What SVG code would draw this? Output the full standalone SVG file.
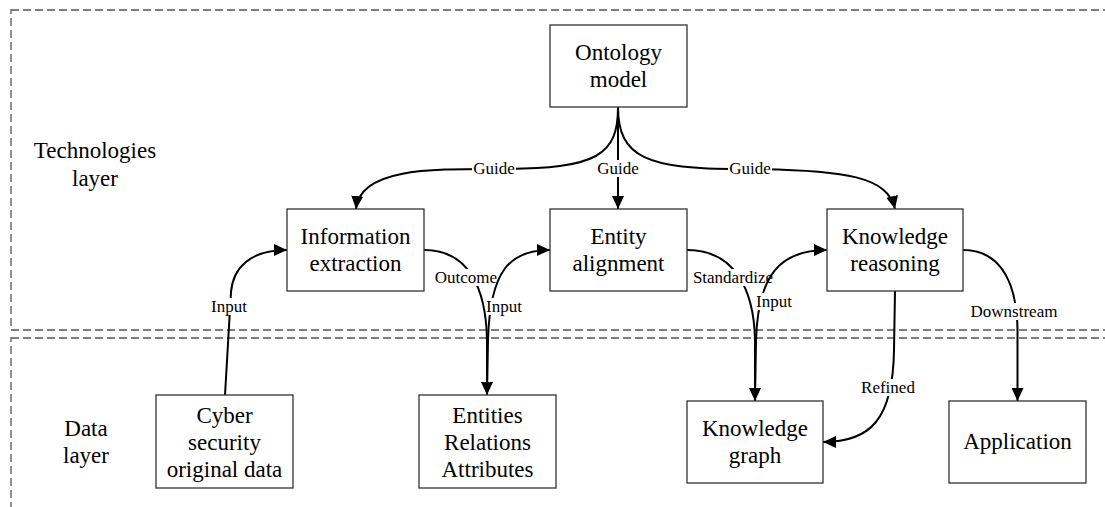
<svg xmlns="http://www.w3.org/2000/svg" width="1105" height="507" viewBox="0 0 1105 507">
<style>
  .layer { fill: none; stroke: #555; stroke-width: 1.3; stroke-dasharray: 8 4; }
  .box { fill: #fff; stroke: #333; stroke-width: 1.3; }
  .t { font-family: "Liberation Serif", "Times New Roman", serif; font-size: 23px; fill: #000; text-anchor: middle; }
  .lbl { font-family: "Liberation Serif", "Times New Roman", serif; font-size: 17px; fill: #000; text-anchor: middle; }
  .edge { fill: none; stroke: #000; stroke-width: 2; }
  .bg { fill: #fff; stroke: none; }
</style>
<defs>
  <marker id="arr" markerUnits="userSpaceOnUse" markerWidth="14" markerHeight="12" refX="13" refY="6" orient="auto">
    <path d="M0,0 L13,6 L0,12 Z" fill="#000"/>
  </marker>
</defs>
<rect width="1105" height="507" fill="#fff"/>

<g id="layers">
  <rect class="layer" x="11" y="10" width="1110" height="320"/>
  <rect class="layer" x="11" y="338" width="1110" height="200"/>
  <text class="t" x="95" y="158">Technologies</text>
  <text class="t" x="95" y="186">layer</text>
  <text class="t" x="86" y="436">Data</text>
  <text class="t" x="86" y="463">layer</text>
</g>

<g id="connectors">
  <!-- Guide left -->
  <path class="edge" d="M618,107 C618,155 598,169 500,169 C430,169 360,168 356,209" marker-end="url(#arr)"/>
  <rect class="bg" x="472" y="160" width="44" height="17"/>
  <text class="lbl" x="494" y="174">Guide</text>
  <!-- Guide middle -->
  <path class="edge" d="M618,107 L618,209" marker-end="url(#arr)"/>
  <rect class="bg" x="596" y="160" width="44" height="17"/>
  <text class="lbl" x="618" y="174">Guide</text>
  <!-- Guide right -->
  <path class="edge" d="M618,107 C618,158 648,169 740,169 C850,169 888,178 895,209" marker-end="url(#arr)"/>
  <rect class="bg" x="728" y="160" width="44" height="17"/>
  <text class="lbl" x="750" y="174">Guide</text>
  <!-- Input: Cyber -> Information extraction -->
  <path class="edge" d="M225,395 L231,292 C233,268 250,250 287,250" marker-end="url(#arr)"/>
  <rect class="bg" x="211" y="298" width="37" height="17"/>
  <text class="lbl" x="229" y="312">Input</text>
  <!-- Outcome: Information extraction -> Entities -->
  <path class="edge" d="M424,250 C470,250 486,290 487,340 L487,395" marker-end="url(#arr)"/>
  <rect class="bg" x="434" y="269" width="64" height="17"/>
  <text class="lbl" x="466" y="283">Outcome</text>
  <!-- Input: Entities -> Entity alignment -->
  <path class="edge" d="M487,395 L488,340 C490,270 510,250 550,250" marker-end="url(#arr)"/>
  <rect class="bg" x="486" y="298" width="36" height="17"/>
  <text class="lbl" x="504" y="312">Input</text>
  <!-- Standardize: Entity alignment -> Knowledge graph -->
  <path class="edge" d="M687,250 C735,250 754,290 755,340 L755,401" marker-end="url(#arr)"/>
  <rect class="bg" x="693" y="269" width="81" height="17"/>
  <text class="lbl" x="733" y="283">Standardize</text>
  <!-- Input: Knowledge graph -> Knowledge reasoning -->
  <path class="edge" d="M755,401 L756,340 C758,275 780,250 827,250" marker-end="url(#arr)"/>
  <rect class="bg" x="756" y="293" width="36" height="17"/>
  <text class="lbl" x="774" y="307">Input</text>
  <!-- Downstream: Knowledge reasoning -> Application -->
  <path class="edge" d="M963,250 C1005,250 1017,290 1017.5,330 L1017.5,401" marker-end="url(#arr)"/>
  <rect class="bg" x="970" y="303" width="89" height="17"/>
  <text class="lbl" x="1014" y="317">Downstream</text>
  <!-- Refined: Knowledge reasoning -> Knowledge graph -->
  <path class="edge" d="M895,291 L894,350 C893,420 870,442 823,442" marker-end="url(#arr)"/>
  <rect class="bg" x="861" y="379" width="55" height="17"/>
  <text class="lbl" x="888" y="393">Refined</text>
</g>

<g id="ontology">
  <rect class="box" x="550" y="25" width="137" height="82"/>
  <text class="t" x="618.5" y="60">Ontology</text>
  <text class="t" x="618.5" y="87">model</text>
</g>
<g id="information-extraction">
  <rect class="box" x="287" y="209" width="137" height="82"/>
  <text class="t" x="355.5" y="244">Information</text>
  <text class="t" x="355.5" y="271">extraction</text>
</g>
<g id="entity-alignment">
  <rect class="box" x="550" y="209" width="137" height="82"/>
  <text class="t" x="618.5" y="244">Entity</text>
  <text class="t" x="618.5" y="271">alignment</text>
</g>
<g id="knowledge-reasoning">
  <rect class="box" x="827" y="209" width="136" height="82"/>
  <text class="t" x="895" y="244">Knowledge</text>
  <text class="t" x="895" y="271">reasoning</text>
</g>
<g id="cyber-data">
  <rect class="box" x="156" y="395" width="137" height="93"/>
  <text class="t" x="224.5" y="423">Cyber</text>
  <text class="t" x="224.5" y="450">security</text>
  <text class="t" x="224.5" y="477">original data</text>
</g>
<g id="entities">
  <rect class="box" x="419" y="395" width="137" height="93"/>
  <text class="t" x="487.5" y="423">Entities</text>
  <text class="t" x="487.5" y="450">Relations</text>
  <text class="t" x="487.5" y="477">Attributes</text>
</g>
<g id="knowledge-graph">
  <rect class="box" x="687" y="401" width="136" height="82"/>
  <text class="t" x="755" y="435.5">Knowledge</text>
  <text class="t" x="755" y="462.5">graph</text>
</g>
<g id="application">
  <rect class="box" x="949" y="401" width="137" height="82"/>
  <text class="t" x="1017.5" y="449">Application</text>
</g>
</svg>
